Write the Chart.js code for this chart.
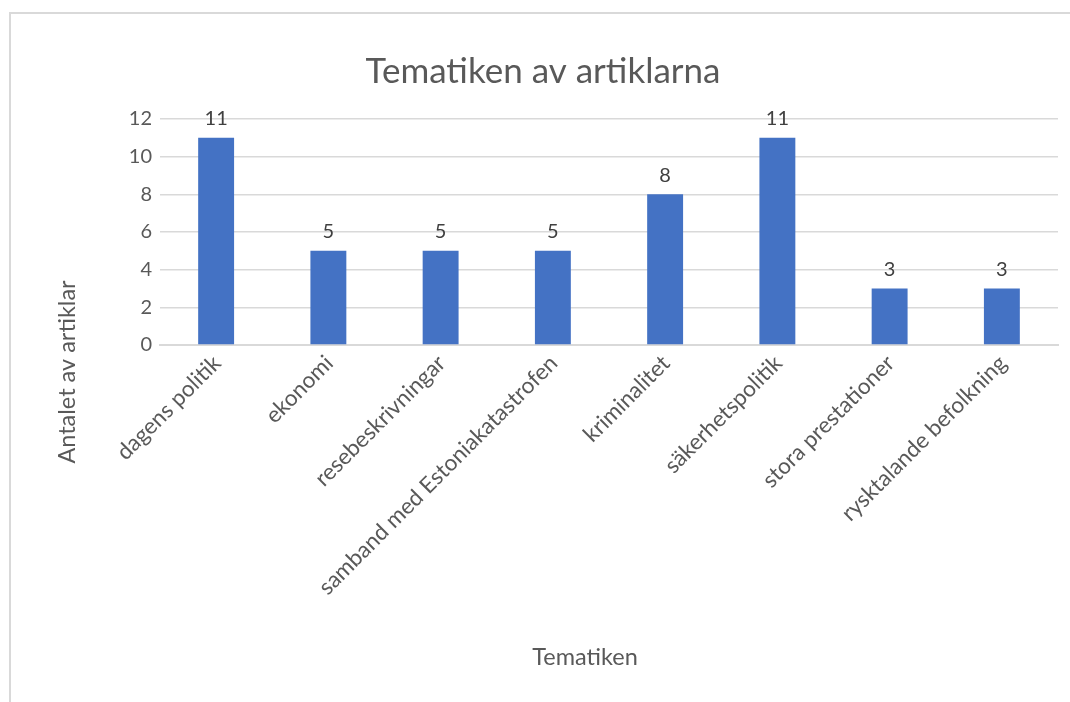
<!DOCTYPE html>
<html>
<head>
<meta charset="utf-8">
<script src="https://cdn.jsdelivr.net/npm/chart.js@4.4.1/dist/chart.umd.min.js"></script>
<style>
  html, body { margin: 0; padding: 0; background: #fff; overflow: hidden; width: 1070px; height: 702px; }
  #frame { position: absolute; left: 9px; top: 12px; width: 2000px; height: 2000px; border: 2px solid #d9d9d9; box-sizing: border-box; }
  #wrap { position: absolute; left: 0; top: 0; width: 1070px; height: 702px; }
</style>
</head>
<body>
<div id="frame"></div>
<div id="wrap"><canvas id="c" width="1070" height="702"></canvas></div>
<script>
const categories = ["dagens politik", "ekonomi", "resebeskrivningar", "samband med Estoniakatastrofen", "kriminalitet", "säkerhetspolitik", "stora prestationer", "rysktalande befolkning"];
const articleCounts = [11, 5, 5, 5, 8, 11, 3, 3];
const yTicks = [0, 2, 4, 6, 8, 10, 12];
const chartTitle = "Tematiken av artiklarna";
const xTitle = "Tematiken";
const yTitle = "Antalet av artiklar";

const FONT = "Lato, 'Noto Sans', sans-serif";
const TEXT = "#595959";

const labelsPlugin = {
  id: 'valueLabels',
  afterDatasetsDraw(chart) {
    const ctx = chart.ctx;
    const meta = chart.getDatasetMeta(0);
    ctx.save();
    ctx.font = "20px " + FONT;
    ctx.fillStyle = "#404040";
    ctx.textAlign = "center";
    ctx.textBaseline = "bottom";
    meta.data.forEach((bar, i) => {
      ctx.fillText(String(chart.data.datasets[0].data[i]), bar.x, bar.y - 9);
    });
    ctx.restore();
  }
};

const axisTitlesPlugin = {
  id: 'axisTitles',
  afterDraw(chart) {
    const ctx = chart.ctx;
    ctx.save();
    ctx.font = "23.5px " + FONT;
    ctx.fillStyle = TEXT;
    ctx.textAlign = "center";
    ctx.textBaseline = "middle";
    ctx.fillText(xTitle, 585, 657);
    ctx.translate(67, 372);
    ctx.rotate(-Math.PI / 2);
    ctx.fillText(yTitle, 0, 0);
    ctx.restore();
  }
};

new Chart(document.getElementById('c'), {
  type: 'bar',
  data: {
    labels: categories,
    datasets: [{
      data: articleCounts,
      backgroundColor: "#4472C4",
      borderWidth: 0,
      barPercentage: 0.32,
      categoryPercentage: 1.0
    }]
  },
  options: {
    responsive: false,
    animation: false,
    devicePixelRatio: 1,
    layout: { padding: { left: 28, right: 12, top: 0, bottom: 0 } },
    plugins: {
      legend: { display: false },
      tooltip: { enabled: false },
      title: {
        display: true,
        text: chartTitle,
        color: TEXT,
        font: { family: FONT, size: 35, weight: 'normal' },
        padding: { top: 51, bottom: 26 }
      }
    },
    scales: {
      x: {
        afterFit(scale) { scale.height = 357; },
        grid: { display: false, drawTicks: false },
        border: { display: true, color: "#d9d9d9", width: 2 },
        ticks: {
          color: TEXT,
          font: { family: FONT, size: 22.5 },
          maxRotation: 45,
          minRotation: 45,
          autoSkip: false,
          padding: 5,
          labelOffset: 1
        }
      },
      y: {
        min: 0,
        max: 12,
        afterFit(scale) { scale.width = 132; },
        afterBuildTicks(scale) { scale.ticks = yTicks.map(v => ({ value: v })); },
        grid: { color: "#d9d9d9", lineWidth: 1.5, drawTicks: false },
        border: { display: false },
        ticks: {
          color: TEXT,
          font: { family: FONT, size: 20 },
          padding: 8
        }
      }
    }
  },
  plugins: [labelsPlugin, axisTitlesPlugin]
});
</script>
</body>
</html>
